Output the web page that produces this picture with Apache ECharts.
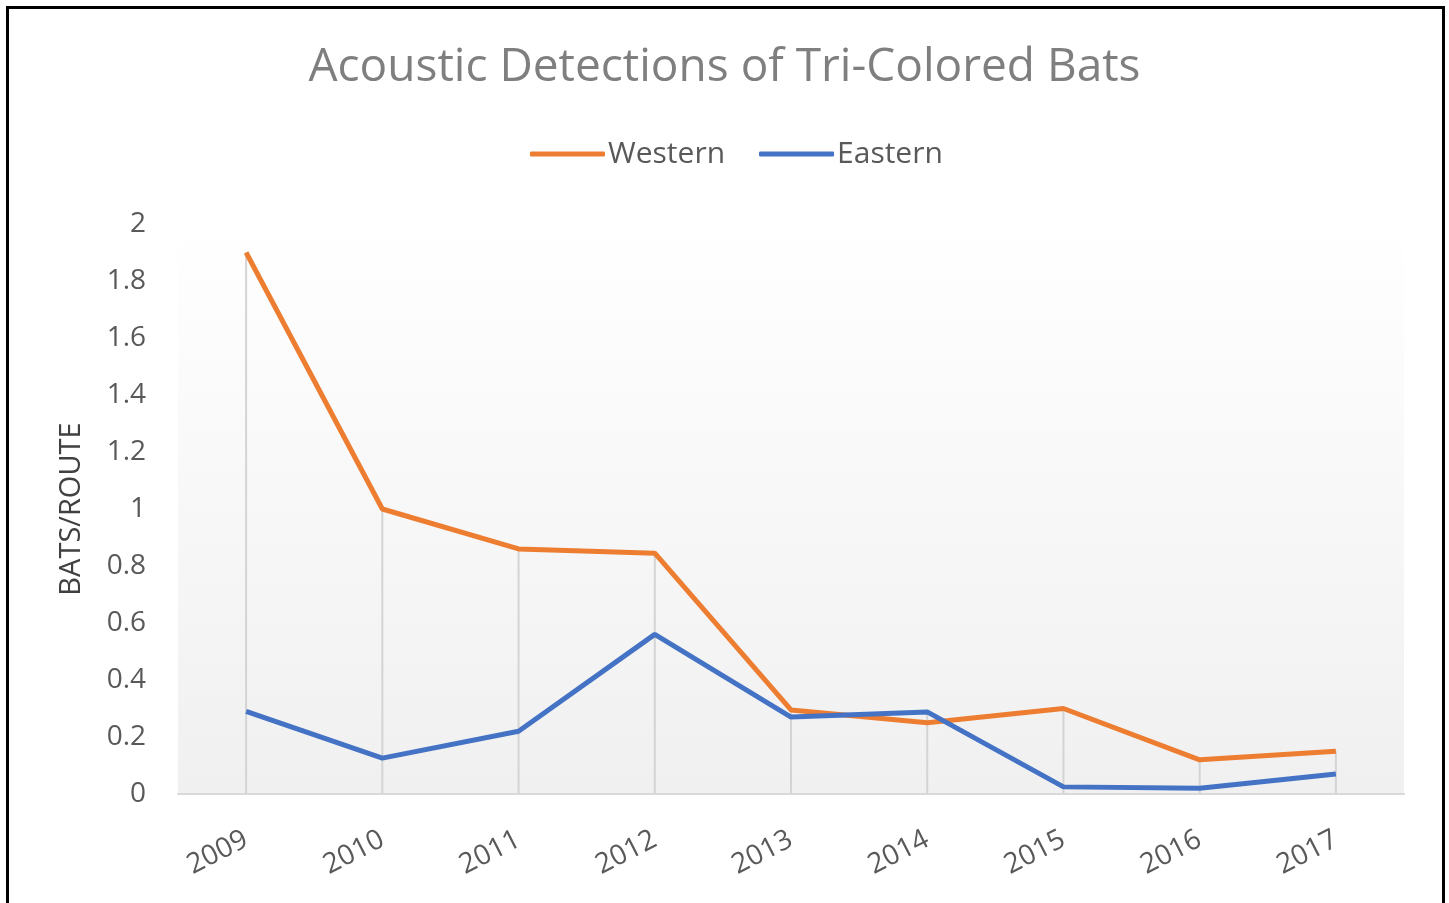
<!DOCTYPE html>
<html>
<head>
<meta charset="utf-8">
<script src="https://cdn.jsdelivr.net/npm/echarts@6/dist/echarts.min.js"></script>
<style>
html,body{margin:0;padding:0;background:#fff;}
#chart{width:1449px;height:903px;}
</style>
</head>
<body>
<div id="chart"></div>
<script>
const years = ['2009','2010','2011','2012','2013','2014','2015','2016','2017'];
const western = [1.9, 1.0, 0.86, 0.845, 0.295, 0.25, 0.30, 0.12, 0.15];
const eastern = [0.29, 0.126, 0.22, 0.56, 0.27, 0.288, 0.025, 0.02, 0.07];
const yTicks = [0, 0.2, 0.4, 0.6, 0.8, 1, 1.2, 1.4, 1.6, 1.8, 2];
const dropTops = western.map((w, i) => Math.max(w, eastern[i]));

const chart = echarts.init(document.getElementById('chart'));
const font = '"Open Sans", Lato, sans-serif';
chart.setOption({
  backgroundColor: '#fff',
  animation: false,
  title: {
    text: 'Acoustic Detections of Tri-Colored Bats',
    left: 'center',
    top: 40,
    textStyle: {fontFamily: font, fontSize: 46, fontWeight: 'normal', color: '#7f7f7f'}
  },
  legend: {
    top: 134,
    left: 525,
    itemWidth: 75,
    itemHeight: 5,
    itemGap: 34,
    icon: 'roundRect',
    data: ['Western', 'Eastern'],
    textStyle: {fontFamily: font, fontSize: 30, color: '#595959', padding: [0, 0, 0, -2]}
  },
  grid: {
    left: 178, right: 45, top: 224, bottom: 109,
    show: true, borderWidth: 0,
    backgroundColor: {
      type: 'linear', x: 0, y: 0, x2: 0, y2: 1,
      colorStops: [{offset: 0, color: '#ffffff'}, {offset: 1, color: '#f0f0f0'}]
    }
  },
  xAxis: {
    type: 'category',
    data: years,
    boundaryGap: true,
    axisLine: {lineStyle: {color: '#d9d9d9', width: 2}},
    axisTick: {show: false},
    axisLabel: {fontFamily: font, fontSize: 28, color: '#595959', rotate: 27, margin: 44}
  },
  yAxis: {
    type: 'value',
    min: yTicks[0],
    max: yTicks[yTicks.length - 1],
    interval: 0.2,
    name: 'BATS/ROUTE',
    nameLocation: 'middle',
    nameRotate: 90,
    nameGap: 92,
    nameTextStyle: {fontFamily: font, fontSize: 29, color: '#404040'},
    axisLine: {show: false},
    axisTick: {show: false},
    splitLine: {show: false},
    axisLabel: {fontFamily: font, fontSize: 28, color: '#595959', margin: 32,
      formatter: v => String(Math.round(v * 10) / 10)}
  },
  series: [
    {
      name: 'drop', type: 'bar', data: dropTops, barWidth: 2, z: 1,
      itemStyle: {color: '#d4d4d4'}, silent: true
    },
    {
      name: 'Western', type: 'line', data: western, symbol: 'none', z: 3,
      lineStyle: {color: '#ED7D31', width: 5}, itemStyle: {color: '#ED7D31'}
    },
    {
      name: 'Eastern', type: 'line', data: eastern, symbol: 'none', z: 4,
      lineStyle: {color: '#4472C4', width: 5}, itemStyle: {color: '#4472C4'}
    }
  ],
  graphic: [{
    type: 'rect', left: 5, top: 5, silent: true,
    shape: {width: 1436, height: 920},
    style: {fill: 'none', stroke: '#000', lineWidth: 3}
  }]
});
</script>
</body>
</html>
